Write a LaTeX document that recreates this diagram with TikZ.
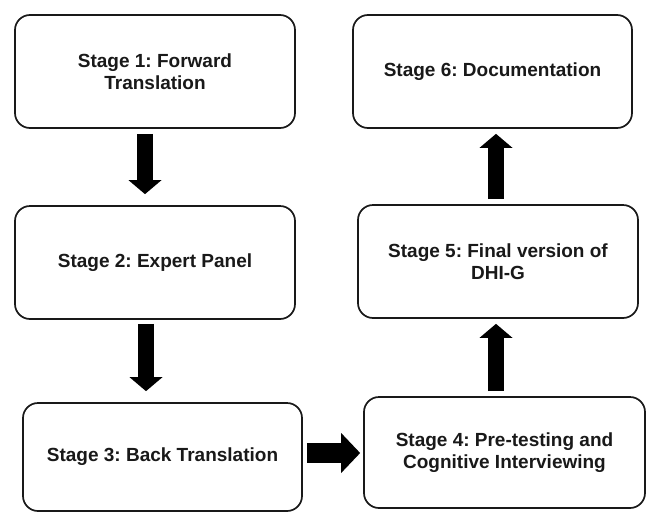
\documentclass[tikz,border=0pt]{standalone}
\usepackage{fontspec}
\setmainfont{Liberation Sans}
\usetikzlibrary{arrows.meta,calc}
\frenchspacing
\begin{document}
\begin{tikzpicture}[x=1pt,y=-1pt,
  stagebox/.style={draw=black!90, line width=1.7pt, rounded corners=15pt, fill=white,
    text=black!90, font=\bfseries\fontsize{19}{22}\selectfont, align=center,
    inner sep=0pt},
  bigarrow/.style={draw=black, line width=16pt,
    -{Triangle[width=33pt,length=14pt,line width=0pt]}},
  widearrow/.style={draw=black, line width=20pt,
    -{Triangle[width=40pt,length=19pt,line width=0pt]}}]
\useasboundingbox (0,0) rectangle (649,512);
\node[stagebox, minimum width=280pt, minimum height=113pt] (s1) at (155,71.5) {Stage 1: Forward\\Translation};
\node[stagebox, minimum width=280pt, minimum height=113pt] (s2) at (155,262.5) {Stage 2: Expert Panel};
\node[stagebox, minimum width=279pt, minimum height=108pt] (s3) at (162.5,457) {Stage 3: Back Translation};
\node[stagebox, minimum width=281pt, minimum height=111pt] (s4) at (504.5,452.5) {Stage 4: Pre-testing and\\Cognitive Interviewing};
\node[stagebox, minimum width=280pt, minimum height=113pt] (s5) at (498,261.5) {Stage 5: Final version of\\DHI-G};
\node[stagebox, minimum width=279pt, minimum height=113pt] (s6) at (492.5,71.5) {Stage 6: Documentation};
\coordinate (ax1) at (145,0);
\coordinate (ax2) at (146,0);
\coordinate (ay3) at (0,453);
\coordinate (ax4) at (496,0);
\draw[bigarrow] ($(s1.south -| ax1)+(0,5)$) -- ($(s2.north -| ax1)+(0,-11)$);
\draw[bigarrow] ($(s2.south -| ax2)+(0,4)$) -- ($(s3.north -| ax2)+(0,-11)$);
\draw[widearrow] ($(s3.east |- ay3)+(4,0)$) -- ($(s4.west |- ay3)+(-3,0)$);
\draw[bigarrow] ($(s4.north -| ax4)+(0,-5)$) -- ($(s5.south -| ax4)+(0,5)$);
\draw[bigarrow] ($(s5.north -| ax4)+(0,-5)$) -- ($(s6.south -| ax4)+(0,5)$);
\end{tikzpicture}
\end{document}
